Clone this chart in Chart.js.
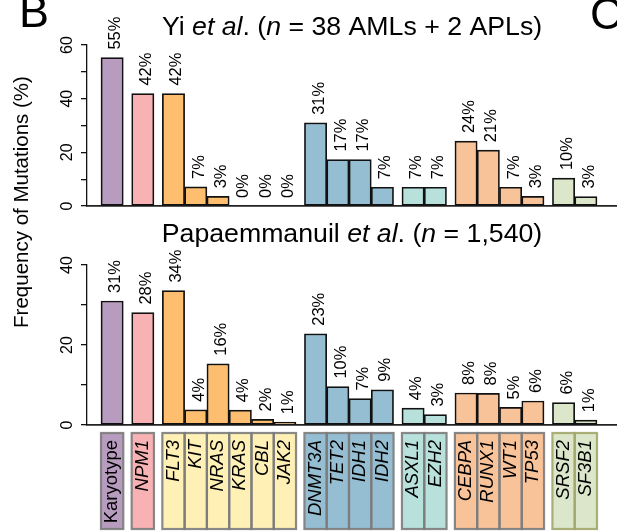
<!DOCTYPE html>
<html>
<head>
<meta charset="utf-8">
<title>Frequency of Mutations</title>
<script src="https://cdn.jsdelivr.net/npm/chart.js@4.4.1/dist/chart.umd.min.js"></script>
<style>
  html, body { margin: 0; padding: 0; background: #fff; overflow: hidden; }
  #wrap { position: relative; width: 617px; height: 531px; }
  #topChart { position: absolute; left: 0; top: 0; }
  #bottomChart { position: absolute; left: 0; top: 215px; }
</style>
</head>
<body>
<div id="wrap">
  <canvas id="topChart" width="617" height="531"></canvas>
  <canvas id="bottomChart" width="617" height="316"></canvas>
</div>
<script>
// Genes, in the groups the figure uses
const groups = [
    ['Karyotype'],
    ['NPM1'],
    ['FLT3', 'KIT', 'NRAS', 'KRAS', 'CBL', 'JAK2'],
    ['DNMT3A', 'TET2', 'IDH1', 'IDH2'],
    ['ASXL1', 'EZH2'],
    ['CEBPA', 'RUNX1', 'WT1', 'TP53'],
    ['SRSF2', 'SF3B1']
];

// Yi et al. (n = 38 AMLs + 2 APLs)
const yiValues = [55.3, 41.9, 41.9, 7.1, 3.6, 0, 0, 0, 31.0, 17.3, 17.3, 7.0, 7.0, 7.0, 24.2, 20.8, 7.0, 3.6, 10.4, 3.5];
const yiPct    = [55, 42, 42, 7, 3, 0, 0, 0, 31, 17, 17, 7, 7, 7, 24, 21, 7, 3, 10, 3];
const yiTicks  = [0, 20, 40, 60];

// Papaemmanuil et al. (n = 1,540)
const papaValues = [31.0, 28.1, 33.6, 3.8, 15.3, 3.7, 1.4, 0.7, 22.8, 9.6, 6.6, 8.8, 4.2, 2.6, 8.0, 7.9, 4.4, 6.0, 5.6, 1.2];
const papaPct    = [31, 28, 34, 4, 16, 4, 2, 1, 23, 10, 7, 9, 4, 3, 8, 8, 5, 6, 6, 1];
const papaTicks  = [0, 20, 40];

// Colours per group
const barColors = ['#b89cbf', '#f8b2b4', '#fdbf6f', '#95bed3', '#b8e1dc', '#f9c39a', '#dbe6cb'];
const boxColors = ['#b89cbf', '#f8b2b4', '#fff0b6', '#95bed3', '#b8e1dc', '#f9c39a', '#dbe6cb'];
const boxEdges  = ['#7c7c7c', '#7c7c7c', '#7c7c7c', '#7c7c7c', '#7c7c7c', '#7c7c7c', '#a2a66c'];

const FONT = '"Liberation Sans", Arial, sans-serif';
const GAP = 0.377;   // space between gene groups, in bar widths

// bar centres on a linear x axis, plus a group index for each bar
const genes = [];
const xPos = [];
const groupOf = [];
groups.forEach((g, gi) => {
    g.forEach(name => {
        xPos.push(genes.length + gi * GAP);
        genes.push(name);
        groupOf.push(gi);
    });
});

function drawRich(ctx, parts, cx, baseline, size) {
    const fonts = parts.map(p => (p[1] ? 'italic ' : '') + size + 'px ' + FONT);
    let total = 0;
    const widths = parts.map((p, i) => {
        ctx.font = fonts[i];
        const w = ctx.measureText(p[0]).width;
        total += w;
        return w;
    });
    let x = cx - total / 2;
    ctx.textAlign = 'left';
    ctx.textBaseline = 'alphabetic';
    ctx.fillStyle = '#000';
    parts.forEach((p, i) => {
        ctx.font = fonts[i];
        ctx.fillText(p[0], x, baseline);
        x += widths[i];
    });
}

function panelPlugin(pct, ticks, titleParts, titleBaseline) {
    return {
        id: 'panelText',
        afterDraw(chart) {
            const ctx = chart.ctx;
            const meta = chart.getDatasetMeta(0);
            ctx.save();
            ctx.fillStyle = '#000';

            // value labels above the bars
            ctx.font = '16.5px ' + FONT;
            ctx.textAlign = 'left';
            ctx.textBaseline = 'alphabetic';
            meta.data.forEach((bar, i) => {
                ctx.save();
                ctx.translate(bar.x + 8, bar.y - 8);
                ctx.rotate(-Math.PI / 2);
                ctx.fillText(pct[i] + '%', 0, 0);
                ctx.restore();
            });

            // y tick labels, written along the axis
            const y = chart.scales.y;
            ctx.font = '16px ' + FONT;
            ctx.textAlign = 'center';
            ticks.forEach(v => {
                ctx.save();
                ctx.translate(72, y.getPixelForValue(v));
                ctx.rotate(-Math.PI / 2);
                ctx.fillText(String(v), 0, 0);
                ctx.restore();
            });

            const area = chart.chartArea;
            drawRich(ctx, titleParts, (area.left + area.right) / 2, titleBaseline, 26.7);
            ctx.restore();
        }
    };
}

const figurePlugin = {
    id: 'figureText',
    afterDraw(chart) {
        const ctx = chart.ctx;
        ctx.save();
        ctx.fillStyle = '#000';
        ctx.textBaseline = 'alphabetic';
        ctx.font = '45px ' + FONT;
        ctx.textAlign = 'left';
        ctx.fillText('B', 19, 27);
        ctx.fillText('C', 590, 29);

        ctx.font = '20.5px ' + FONT;
        ctx.textAlign = 'center';
        ctx.translate(27.5, 202);
        ctx.rotate(-Math.PI / 2);
        ctx.fillText('Frequency of Mutations (%)', 0, 0);
        ctx.restore();
    }
};

const geneBoxPlugin = {
    id: 'geneBoxes',
    afterDraw(chart) {
        const ctx = chart.ctx;
        const x = chart.scales.x;
        const top = 218, bottom = 314;
        ctx.save();
        genes.forEach((name, i) => {
            const g = groupOf[i];
            const l = x.getPixelForValue(xPos[i] - 0.5);
            const r = x.getPixelForValue(xPos[i] + 0.5);
            ctx.fillStyle = boxColors[g];
            ctx.fillRect(l, top, r - l, bottom - top);
        });
        genes.forEach((name, i) => {
            const g = groupOf[i];
            const l = x.getPixelForValue(xPos[i] - 0.5);
            const r = x.getPixelForValue(xPos[i] + 0.5);
            ctx.strokeStyle = boxEdges[g];
            ctx.globalAlpha = 0.9;
            ctx.lineWidth = 2.2;
            ctx.strokeRect(l, top, r - l, bottom - top);
        });
        ctx.globalAlpha = 1;
        ctx.fillStyle = '#000';
        ctx.textAlign = 'right';
        ctx.textBaseline = 'middle';
        genes.forEach((name, i) => {
            ctx.save();
            ctx.font = (name === 'Karyotype' ? '' : 'italic ') + '18.5px ' + FONT;
            ctx.translate(x.getPixelForValue(xPos[i]), top + 7);
            ctx.rotate(-Math.PI / 2);
            ctx.fillText(name, 0, 0);
            ctx.restore();
        });
        ctx.restore();
    }
};

function makeChart(id, values, yMax, padding, plugins) {
    const ctx = document.getElementById(id).getContext('2d');
    return new Chart(ctx, {
        type: 'bar',
        data: {
            datasets: [{
                data: xPos.map((x, i) => ({ x: x, y: values[i] })),
                backgroundColor: groupOf.map(g => barColors[g]),
                borderColor: '#111',
                borderWidth: 1.7,
                borderSkipped: false,
                barPercentage: 1,
                categoryPercentage: 1
            }]
        },
        options: {
            responsive: false,
            animation: false,
            layout: { padding: padding },
            plugins: {
                legend: { display: false },
                tooltip: { enabled: false }
            },
            scales: {
                x: {
                    type: 'linear',
                    offset: false,
                    min: -1.128,
                    max: 22.66,
                    ticks: { display: false },
                    grid: { display: false, drawTicks: false, offset: false },
                    border: { display: true, color: '#222', width: 1.8 },
                    afterFit: s => { s.height = 0; }
                },
                y: {
                    min: 0,
                    max: yMax,
                    ticks: { display: false, stepSize: 10 },
                    grid: { display: true, drawOnChartArea: false, drawTicks: true, tickLength: 6, color: '#111', lineWidth: 1.3 },
                    border: { display: true, color: '#111', width: 1.3 },
                    afterFit: s => { s.width = 6; }
                }
            }
        },
        plugins: plugins
    });
}

makeChart('topChart', yiValues, 60, { top: 45, left: 81, right: 0, bottom: 325 }, [
    panelPlugin(yiPct, yiTicks,
        [['Yi ', 0], ['et al', 1], ['. (', 0], ['n', 1], [' = 38 AMLs + 2 APLs)', 0]], 35),
    figurePlugin
]);

makeChart('bottomChart', papaValues, 40, { top: 50, left: 81, right: 0, bottom: 106 }, [
    panelPlugin(papaPct, papaTicks,
        [['Papaemmanuil ', 0], ['et al', 1], ['. (', 0], ['n', 1], [' = 1,540)', 0]], 27),
    geneBoxPlugin
]);
</script>
</body>
</html>
